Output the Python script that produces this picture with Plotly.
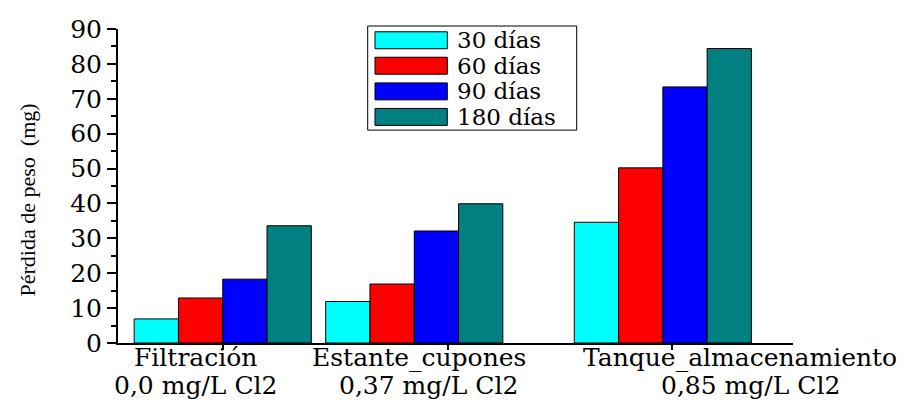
import plotly.graph_objects as go

# Weight loss of coupons (mg) per sampling point and exposure time
sites = ["Filtración", "Estante_cupones", "Tanque_almacenamiento"]
chlorine = ["0,0 mg/L Cl2", "0,37 mg/L Cl2", "0,85 mg/L Cl2"]
series_names = ["30 días", "60 días", "90 días", "180 días"]
loss_30 = [6.9, 11.9, 34.6]
loss_60 = [12.9, 16.9, 50.2]
loss_90 = [18.3, 32.1, 73.4]
loss_180 = [33.6, 39.9, 84.4]
y_ticks = [0, 10, 20, 30, 40, 50, 60, 70, 80, 90]

series_values = [loss_30, loss_60, loss_90, loss_180]
colors = ["#00FFFF", "#FF0000", "#0000FF", "#008080"]

# layout of the groups along the numeric x axis
group_centers = [0.0, 0.852, 1.958]
bar_w = 0.197
label_pos_site = [-0.123, 0.874, 2.30]
label_pos_cl = [-0.123, 0.914, 2.349]

W, H = 909, 400
L, R, T, B = 118, 116, 28.7, 56.7
plot_w = W - L - R
plot_h = H - T - B


def px(x):
    return (x - L) / plot_w


def py(y):
    return (H - B - y) / plot_h


SERIF = "DejaVu Serif"

fig = go.Figure()
for i, (name, vals, col) in enumerate(zip(series_names, series_values, colors)):
    xs = [c + (i - 1.5) * bar_w for c in group_centers]
    fig.add_trace(go.Bar(
        x=xs, y=vals, width=bar_w, name=name,
        marker=dict(color=col, line=dict(color="black", width=1)),
        showlegend=False,
    ))

shapes = []
annotations = []

# legend box with wide colour swatches
shapes.append(dict(type="rect", xref="paper", yref="paper",
                   x0=px(367.7), x1=px(576.7), y0=py(130), y1=py(25.7),
                   line=dict(color="black", width=1), fillcolor="white", layer="above"))
row_y = [40.0, 65.5, 91.2, 116.8]
for name, col, ry in zip(series_names, colors, row_y):
    shapes.append(dict(type="rect", xref="paper", yref="paper",
                       x0=px(375), x1=px(447.3), y0=py(ry + 8.5), y1=py(ry - 8.5),
                       line=dict(color="black", width=1), fillcolor=col, layer="above"))
    annotations.append(dict(text=name, xref="paper", yref="paper",
                            x=px(455), y=py(ry), xanchor="left", yanchor="middle",
                            showarrow=False, font=dict(family=SERIF, size=23, color="black")))

# two-line category labels under the axis
for s, c, xs, xc in zip(sites, chlorine, label_pos_site, label_pos_cl):
    annotations.append(dict(text=s, xref="x", yref="paper", x=xs, y=py(358),
                            xanchor="center", yanchor="middle", showarrow=False,
                            font=dict(family=SERIF, size=25, color="black")))
    annotations.append(dict(text=c, xref="x", yref="paper", x=xc, y=py(386),
                            xanchor="center", yanchor="middle", showarrow=False,
                            font=dict(family=SERIF, size=25, color="black")))

# y axis title
annotations.append(dict(text="Pérdida de peso\u00a0\u00a0(mg)", xref="paper", yref="paper",
                        x=px(27), y=py(200.5), xanchor="center", yanchor="middle",
                        textangle=-90, showarrow=False,
                        font=dict(family="Liberation Serif", size=22, color="black")))

fig.update_layout(
    width=W, height=H,
    margin=dict(l=L, r=R, t=T, b=B, pad=0),
    paper_bgcolor="white", plot_bgcolor="white",
    barmode="overlay",
    shapes=shapes, annotations=annotations,
    xaxis=dict(range=[-0.466, 2.537], tickvals=[0, 1, 2], showticklabels=False,
               ticks="outside", ticklen=5, tickwidth=1.5, tickcolor="black",
               showline=True, linecolor="black", linewidth=2,
               showgrid=False, zeroline=False, fixedrange=True),
    yaxis=dict(range=[0, 90], tickvals=y_ticks, ticks="outside", ticklen=9,
               tickwidth=1.5, tickcolor="black",
               tickfont=dict(family=SERIF, size=25, color="black"),
               minor=dict(dtick=5, ticks="outside", ticklen=5, tickwidth=1.5,
                          tickcolor="black", showgrid=False),
               showline=True, linecolor="black", linewidth=2,
               showgrid=False, zeroline=False, fixedrange=True),
)

fig.write_html("out.html")
